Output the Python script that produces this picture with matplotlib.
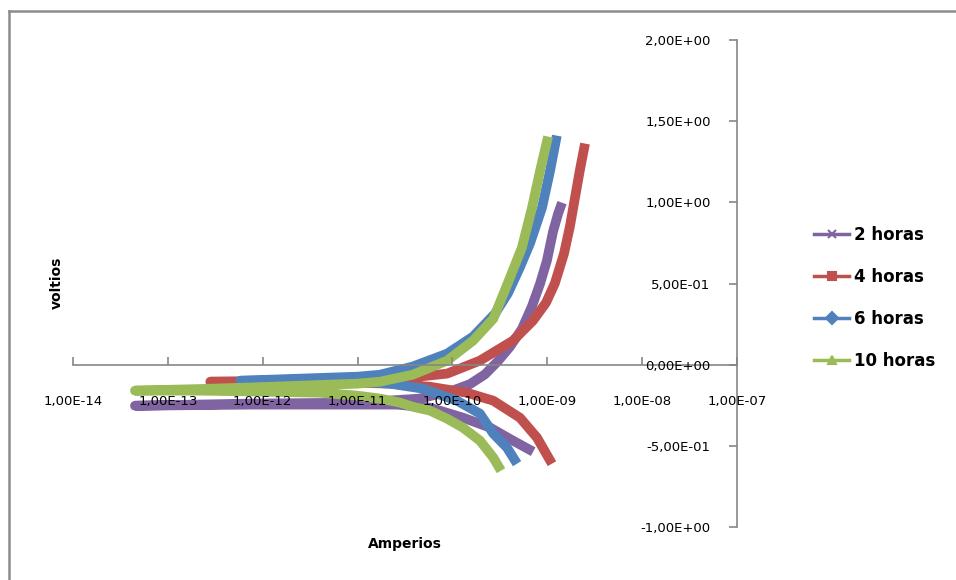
import matplotlib
matplotlib.use('Agg')
import matplotlib.pyplot as plt
from matplotlib.lines import Line2D

# Data: current (A) and potential (V), each series goes cathodic branch -> anodic branch
amp_2h = [7.1e-10, 4.35e-10, 2.5e-10, 1.3e-10, 5.8e-11, 2.6e-11, 1.0e-11, 7.3e-13, 4.5e-14,
          7.3e-13, 1.0e-11, 4.5e-11, 1.0e-10, 1.53e-10, 2.2e-10, 3.0e-10, 4.04e-10, 5.4e-10,
          6.9e-10, 8.4e-10, 9.9e-10, 1.15e-9, 1.3e-9, 1.43e-9]
volt_2h = [-0.536, -0.468, -0.388, -0.327, -0.265, -0.246, -0.246, -0.246, -0.253,
           -0.240, -0.234, -0.209, -0.160, -0.120, -0.060, 0.020, 0.110, 0.220,
           0.360, 0.500, 0.640, 0.820, 0.930, 0.998]

amp_4h = [1.12e-9, 7.8e-10, 5.15e-10, 2.7e-10, 1.42e-10, 5.8e-11, 2.2e-11, 1.0e-11, 2.5e-12, 2.8e-13,
          2.5e-12, 1.0e-11, 2.8e-11, 8.8e-11, 1.95e-10, 4.35e-10, 7.06e-10, 9.7e-10, 1.2e-9,
          1.5e-9, 1.73e-9, 1.91e-9, 2.2e-9, 2.5e-9]
volt_4h = [-0.610, -0.450, -0.327, -0.222, -0.173, -0.136, -0.117, -0.111, -0.105, -0.105,
           -0.099, -0.099, -0.086, -0.055, 0.025, 0.148, 0.271, 0.382, 0.500,
           0.684, 0.850, 0.992, 1.195, 1.362]

amp_6h = [4.8e-10, 3.76e-10, 2.7e-10, 1.95e-10, 1.12e-10, 4.9e-11, 2.2e-11, 1.0e-11, 2.5e-12, 5.8e-13,
          2.5e-12, 1.0e-11, 1.72e-11, 3.8e-11, 8.8e-11, 1.65e-10, 2.81e-10, 3.85e-10, 5.15e-10,
          6.6e-10, 8.8e-10, 1.07e-9, 1.26e-9]
volt_6h = [-0.610, -0.511, -0.425, -0.302, -0.222, -0.148, -0.117, -0.105, -0.099, -0.099,
           -0.086, -0.074, -0.062, -0.012, 0.068, 0.173, 0.314, 0.440, 0.600,
           0.750, 0.967, 1.195, 1.411]

amp_10h = [3.25e-10, 2.7e-10, 1.95e-10, 1.29e-10, 8.8e-11, 5.8e-11, 3.8e-11, 2.8e-11, 1.72e-11, 1.0e-11,
           4.0e-12, 1.0e-12, 2.2e-13, 4.5e-14,
           2.2e-13, 1.0e-12, 4.0e-12, 1.0e-11, 1.72e-11, 3.8e-11, 8.8e-11, 1.65e-10, 2.7e-10,
           3.85e-10, 5.4e-10, 6.9e-10, 8.4e-10, 1.02e-9]
volt_10h = [-0.653, -0.573, -0.468, -0.388, -0.333, -0.283, -0.259, -0.234, -0.209, -0.191,
            -0.173, -0.166, -0.160, -0.160,
            -0.150, -0.138, -0.125, -0.117, -0.105, -0.062, 0.025, 0.148, 0.283,
            0.505, 0.721, 0.967, 1.195, 1.405]

labels = ['2 horas', '4 horas', '6 horas', '10 horas']
colors = ['#8064A2', '#C0504D', '#4F81BD', '#9BBB59']
markers = ['x', 's', 'D', '^']

x_ticks = [1e-14, 1e-13, 1e-12, 1e-11, 1e-10, 1e-9, 1e-8, 1e-7]
x_ticklabels = ['1,00E-14', '1,00E-13', '1,00E-12', '1,00E-11', '1,00E-10', '1,00E-09', '1,00E-08', '1,00E-07']
y_ticks = [-1.0, -0.5, 0.0, 0.5, 1.0, 1.5, 2.0]
y_ticklabels = ['-1,00E+00', '-5,00E-01', '0,00E+00', '5,00E-01', '1,00E+00', '1,50E+00', '2,00E+00']

fig = plt.figure(figsize=(9.56, 5.8), dpi=100)
ax = fig.add_axes([73 / 956, 1 - 527 / 580, 664 / 956, 487 / 580])
ax.set_axisbelow(False)  # tick labels drawn over the curves, as in Excel

series = [(amp_2h, volt_2h), (amp_4h, volt_4h), (amp_6h, volt_6h), (amp_10h, volt_10h)]
for (a, v), c in zip(series, colors):
    ax.plot(a, v, color=c, lw=7, solid_capstyle='butt', solid_joinstyle='round', zorder=2)

ax.set_xscale('log')
ax.set_xlim(1e-14, 1e-7)
ax.set_ylim(-1, 2)
ax.minorticks_off()

axis_grey = '#868686'
ax.spines['top'].set_visible(False)
ax.spines['right'].set_visible(False)
ax.spines['bottom'].set_position(('data', 0))
ax.spines['left'].set_position(('axes', 1.0))
for s in ('bottom', 'left'):
    ax.spines[s].set_color(axis_grey)
    ax.spines[s].set_linewidth(1.2)

ax.set_xticks(x_ticks)
ax.set_xticklabels(x_ticklabels)
ax.set_yticks(y_ticks)
ax.set_yticklabels(y_ticklabels)
ax.tick_params(axis='x', direction='in', length=6, width=1.2, color=axis_grey,
               pad=22, labelsize=9.5)
ax.tick_params(axis='y', direction='out', length=6, width=1.2, color=axis_grey,
               pad=13, labelsize=9.5)

fig.text(57 / 956, 1 - 283 / 580, 'voltios', rotation=90, ha='center', va='center',
         fontsize=10, fontweight='bold')
fig.text(405 / 956, 1 - 544 / 580, 'Amperios', ha='center', va='center',
         fontsize=10, fontweight='bold')

handles = [Line2D([0], [0], color=c, lw=2.5, marker=m, markersize=6, markeredgewidth=1.5)
           for c, m in zip(colors, markers)]
leg = fig.legend(handles, labels, loc='center left', bbox_to_anchor=(799 / 956, 1 - 298 / 580),
                 frameon=False, handlelength=2.1, labelspacing=1.45, handletextpad=0.3,
                 prop={'size': 12, 'weight': 'bold'})

# chart border (Excel chart area)
fig.add_artist(Line2D([9 / 956, 9 / 956], [0, 1 - 11 / 580], color='#8c8c8c', lw=1.8))
fig.add_artist(Line2D([9 / 956, 1], [1 - 11 / 580, 1 - 11 / 580], color='#8c8c8c', lw=1.8))

fig.savefig('out.png', dpi=100)
